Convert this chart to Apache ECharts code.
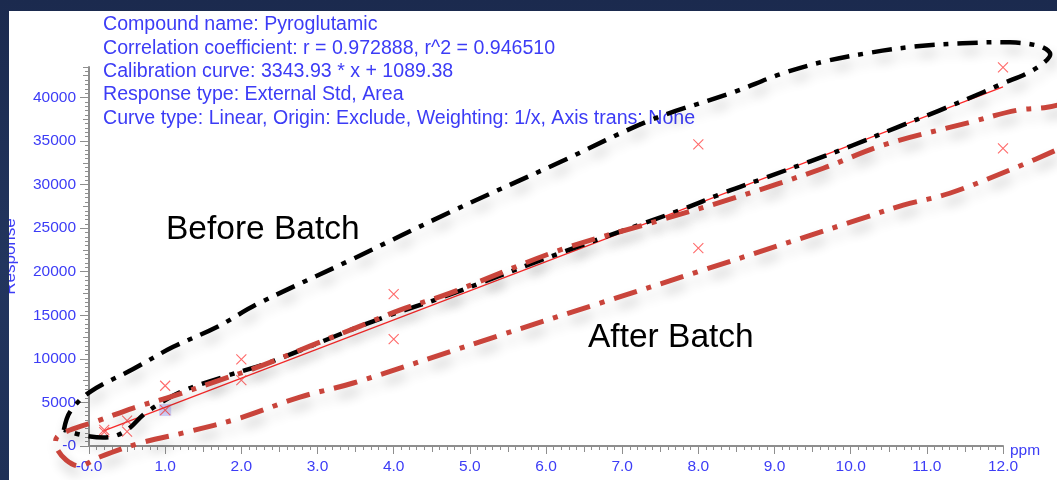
<!DOCTYPE html>
<html>
<head>
<meta charset="utf-8">
<script src="https://cdn.jsdelivr.net/npm/echarts@6/dist/echarts.min.js"></script>
<style>
  html, body { margin: 0; padding: 0; width: 1057px; height: 480px; overflow: hidden;
    background: linear-gradient(180deg, #1b2a4e 0%, #22355e 55%, #1e3057 100%); }
  #chart { position: absolute; left: 9px; top: 11px; width: 1048px; height: 469px; background: #ffffff; }
</style>
</head>
<body>
<div id="chart"></div>
<script>
// Calibration standards: concentration (ppm) and peak-area response
const ppm      = [0.2,  0.2,  0.5,  0.5,  1,    1,    2,    2,    4,     4,     8,     8,     12,    12];
const response = [1850, 1600, 2900, 1640, 6915, 4130, 9940, 7570, 17430, 12270, 34630, 22700, 43450, 34170];

// The currently selected standard (highlighted)
const selectedPpm = [1];
const selectedResponse = [4130];

// Fit results
const compoundName = 'Pyroglutamic';
const fitSlope = 3343.93;
const fitIntercept = 1089.38;
const corrR = '0.972888';
const corrR2 = '0.946510';

// Axis ticks
const xTickValues = [0, 1, 2, 3, 4, 5, 6, 7, 8, 9, 10, 11, 12];
const yTickValues = [0, 5000, 10000, 15000, 20000, 25000, 30000, 35000, 40000];

// Hand-drawn outlines around the two batches, in (ppm, response)
const beforeBatchX = [-0.33, -0.25, 0.01, 0.58, 1.10, 1.68, 2.21, 3.43, 4.74, 6.18, 7.37, 8.46, 9.07, 9.66, 10.28, 10.87, 11.47, 12.09, 12.49, 12.62, 12.51, 12.29, 12.00, 11.74, 11.17, 10.61, 10.03, 9.47, 8.90, 8.32, 7.76, 6.18, 4.61, 3.95, 3.43, 2.38, 1.76, 1.20, 0.74, 0.50, 0.28, -0.03, -0.33];
const beforeBatchY = [1840, 3900, 6190, 8830, 11350, 13650, 16290, 21330, 26840, 32570, 37390, 40600, 42660, 44150, 45180, 45870, 46220, 46330, 45870, 44960, 43810, 42660, 41630, 40600, 38530, 36580, 34520, 32680, 30850, 29010, 27060, 22130, 16970, 15020, 13300, 9630, 7910, 6190, 3780, 1840, 1030, 1150, 1840];

const afterBatchX = [12.81, 12.58, 12.18, 11.57, 10.42, 9.64, 8.46, 7.50, 6.18, 4.74, 4.08, 3.56, 2.90, 2.25, 1.68, 1.10, 0.58, 0.11, -0.25, -0.42, -0.43, -0.30, -0.12, 0.14, 0.67, 1.29, 1.98, 2.77, 3.47, 5.40, 6.71, 8.02, 10.08, 10.69, 11.30, 12.18, 12.81];
const afterBatchY = [39340, 38880, 38530, 37160, 34520, 31880, 28440, 25920, 22480, 17550, 15600, 13760, 11470, 9170, 7450, 5730, 4360, 2870, 1840, 1030, -120, -1610, -2290, -1260, 340, 1610, 3210, 5620, 7230, 12730, 16400, 20070, 25920, 27640, 29010, 32000, 34400];

const BLUE = '#3c3cf6';
const FONT = '"Liberation Sans", Arial, sans-serif';
const AXIS_GREY = '#8e8e8e';

const zip = (xs, ys) => xs.map((x, i) => [x, ys[i]]);
const xFit = [Math.min(...ppm), Math.max(...ppm)];
const fitLine = xFit.map(x => [x, fitSlope * x + fitIntercept]);

const headerLines = [
  'Compound name: ' + compoundName,
  'Correlation coefficient: r = ' + corrR + ', r^2 = ' + corrR2,
  'Calibration curve: ' + fitSlope.toFixed(2) + ' * x + ' + fitIntercept.toFixed(2),
  'Response type: External Std, Area',
  'Curve type: Linear, Origin: Exclude, Weighting: 1/x, Axis trans; None'
];

// Extra tick-only axes give the medium and minor tick levels
function tickAxis(max, position, interval, len) {
  return {
    type: 'value', min: 0, max: max, interval: interval, position: position,
    axisLine: { show: false, onZero: false },
    axisTick: { show: true, length: len, lineStyle: { color: AXIS_GREY, width: 1 } },
    axisLabel: { show: false },
    splitLine: { show: false }
  };
}

const xMax = 12, yMax = 43500;

const option = {
  animation: false,
  grid: { left: 80, right: 54, top: 56, bottom: 34, containLabel: false, outerBoundsMode: 'none' },
  xAxis: [
    {
      type: 'value', min: 0, max: xMax, interval: 1, position: 'bottom',
      axisLine: { show: true, onZero: false, lineStyle: { color: AXIS_GREY, width: 2 } },
      axisTick: { show: true, length: 8, customValues: xTickValues, lineStyle: { color: AXIS_GREY, width: 1 } },
      axisLabel: {
        customValues: xTickValues, margin: 13, color: BLUE, fontSize: 15.5, fontFamily: FONT,
        formatter: v => (v === 0 ? '-0.0' : v.toFixed(1))
      },
      splitLine: { show: false }
    },
    tickAxis(xMax, 'bottom', 0.5, 6),
    tickAxis(xMax, 'bottom', 0.1, 4)
  ],
  yAxis: [
    {
      type: 'value', min: 0, max: yMax, interval: 5000, position: 'left',
      axisLine: { show: true, onZero: false, lineStyle: { color: AXIS_GREY, width: 2 } },
      axisTick: { show: true, length: 9, customValues: yTickValues, lineStyle: { color: AXIS_GREY, width: 1 } },
      axisLabel: {
        customValues: yTickValues, margin: 13, color: BLUE, fontSize: 15.5, fontFamily: FONT,
        formatter: v => (v === 0 ? '-0' : String(v))
      },
      splitLine: { show: false },
      name: 'Response', nameLocation: 'middle', nameGap: 70,
      nameTextStyle: { color: BLUE, fontSize: 17, fontFamily: FONT }
    },
    tickAxis(yMax, 'left', 2500, 6),
    tickAxis(yMax, 'left', 500, 4)
  ],
  series: [
    {
      name: 'Selected', type: 'scatter', clip: false, z: 2,
      data: zip(selectedPpm, selectedResponse),
      symbol: 'rect', symbolSize: 12,
      itemStyle: { color: 'rgba(140,140,255,0.45)' }
    },
    {
      name: 'Calibration curve', type: 'line', clip: false, z: 3,
      data: fitLine, showSymbol: false, symbol: 'none',
      lineStyle: { color: '#ff2a2a', width: 1.2 }
    },
    {
      name: 'Standards', type: 'scatter', clip: false, z: 4,
      data: zip(ppm, response),
      symbol: 'path://M0,0L10,10M10,0L0,10', symbolSize: 10,
      itemStyle: { color: 'rgba(0,0,0,0)', borderColor: '#ff4545', borderWidth: 1.1 }
    }
  ]
};

const chart = echarts.init(document.getElementById('chart'), null, { renderer: 'canvas' });
chart.setOption(option);

// Outlines and text placed through the grid's own coordinate conversion
const toPx = (xs, ys) => xs.map((x, i) => chart.convertToPixel({ xAxisIndex: 0, yAxisIndex: 0 }, [x, ys[i]]));
const axisEnd = chart.convertToPixel({ xAxisIndex: 0, yAxisIndex: 0 }, [xMax, 0]);
const haze = { shadowColor: 'rgba(0,0,0,0.24)', shadowBlur: 12, shadowOffsetX: 3, shadowOffsetY: 8 };

chart.setOption({
  graphic: [
    {
      id: 'header', type: 'text', x: 94, y: 2, z: 10,
      style: { text: headerLines.join('\n'), fill: BLUE, font: '19.6px ' + FONT, lineHeight: 23.4 }
    },
    {
      id: 'ppm', type: 'text', x: axisEnd[0] + 7, y: axisEnd[1] + 5, z: 10,
      style: { text: 'ppm', fill: BLUE, font: '15.5px ' + FONT, verticalAlign: 'middle' }
    },
    {
      id: 'beforeBatch', type: 'polyline', z: 20, silent: true,
      shape: { points: toPx(beforeBatchX, beforeBatchY), smooth: 0.35 },
      style: Object.assign({ fill: null, stroke: '#000000', lineWidth: 4.5, lineDash: [20, 9, 5, 9], lineCap: 'butt' }, haze)
    },
    {
      id: 'afterBatch', type: 'polyline', z: 20, silent: true,
      shape: { points: toPx(afterBatchX, afterBatchY), smooth: 0.35 },
      style: Object.assign({ fill: null, stroke: '#c9443b', lineWidth: 5, lineDash: [24, 10, 5, 10], lineCap: 'butt' }, haze)
    },
    {
      id: 'beforeLabel', type: 'text', x: 157, y: 219, z: 30,
      style: { text: 'Before Batch', fill: '#000000', font: '33.5px ' + FONT, verticalAlign: 'middle' }
    },
    {
      id: 'afterLabel', type: 'text', x: 579, y: 327, z: 30,
      style: { text: 'After Batch', fill: '#000000', font: '33.5px ' + FONT, verticalAlign: 'middle' }
    }
  ]
});
</script>
</body>
</html>
